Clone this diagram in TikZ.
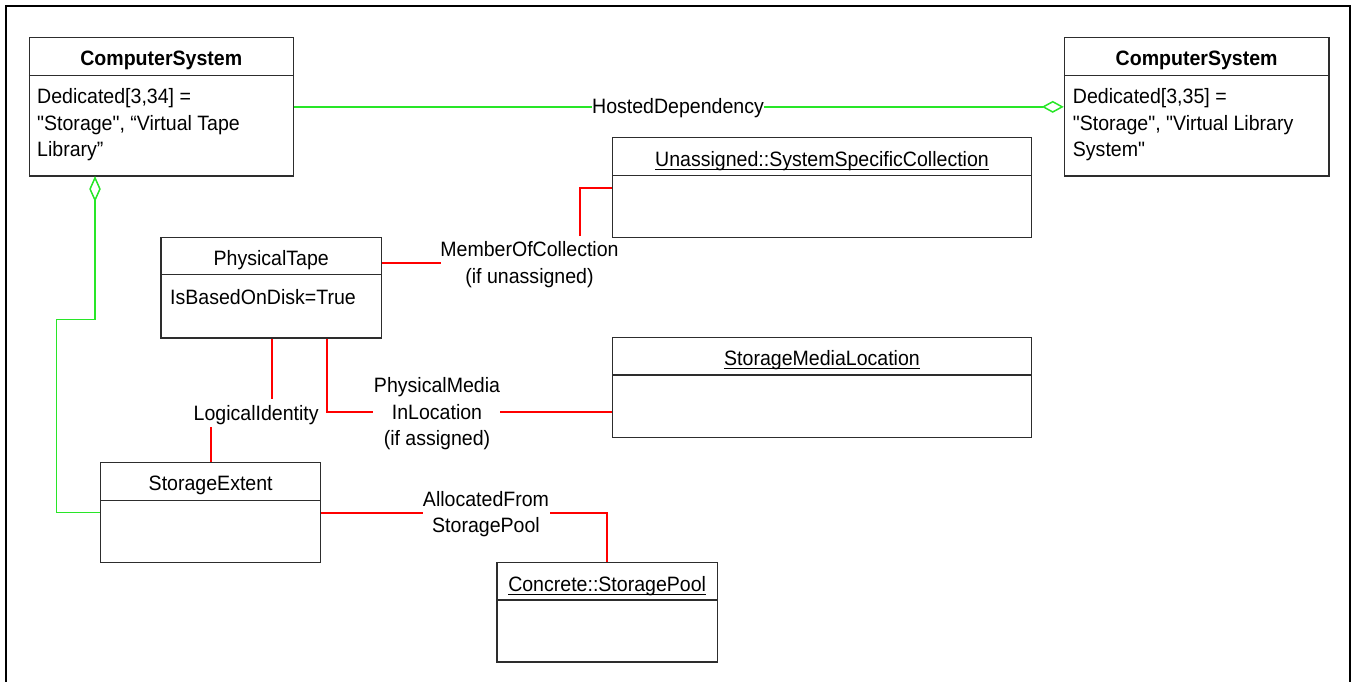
\documentclass[tikz,border=0pt]{standalone}
\usepackage{fontspec}
\setmainfont{Liberation Sans}[Ligatures=TeXOff, FakeStretch=0.94]
\usetikzlibrary{arrows.meta}
\definecolor{umlgreen}{RGB}{40,230,40}
\definecolor{umlred}{RGB}{255,0,0}
\definecolor{boxgray}{RGB}{45,45,45}
\begin{document}
\begin{tikzpicture}[x=1pt,y=-1pt,
  font=\fontsize{20.8}{26.7}\selectfont,
  box/.style={draw=boxgray, line width=1.1pt, inner sep=0pt, fill=white},
  divline/.style={draw=boxgray, line width=1.1pt},
  ttl/.style={inner sep=0pt, anchor=base},
  bodytxt/.style={inner sep=0pt, anchor=base west, align=left},
  lbl/.style={inner sep=0pt, anchor=base, align=center},
  ulne/.style={draw=black, line width=1pt},
  rline/.style={draw=umlred, line width=2pt},
  gline/.style={draw=umlgreen, line width=1.5pt},
  frame/.style={draw=black, line width=2.2pt}]
\useasboundingbox (0,0) rectangle (1352,681);
\draw[frame] (6,6) rectangle (1350,700);

% boxes
\node[box, minimum width=264pt, minimum height=138.3pt] (cs1) at (161.3,106.85) {};
\draw[divline] (cs1.west |- 0,75.3) -- (cs1.east |- 0,75.3);
\node[ttl, font=\fontsize{20.8}{26.7}\selectfont\bfseries] (cs1t) at (161.3,65.7) {ComputerSystem};
\node[bodytxt] (cs1b) at (37,156.7) {Dedicated[3,34] =\\"Storage", “Virtual Tape\\Library”};

\node[box, minimum width=264.7pt, minimum height=138.3pt] (cs2) at (1196.65,106.85) {};
\draw[divline] (cs2.west |- 0,75.3) -- (cs2.east |- 0,75.3);
\node[ttl, font=\fontsize{20.8}{26.7}\selectfont\bfseries] (cs2t) at (1196.65,65.7) {ComputerSystem};
\node[bodytxt] (cs2b) at (1072.7,156.7) {Dedicated[3,35] =\\"Storage", "Virtual Library\\System"};

\node[box, minimum width=418.7pt, minimum height=100pt] (usc) at (822.05,187.7) {};
\draw[divline] (usc.west |- 0,175.3) -- (usc.east |- 0,175.3);
\node[ttl] (usct) at (822.05,166.7) {Unassigned::SystemSpecificCollection};
\draw[ulne] ([yshift=-2.7pt]usct.base west) -- ([yshift=-2.7pt]usct.base east);

\node[box, minimum width=220.5pt, minimum height=100.3pt] (pt) at (271.25,287.85) {};
\draw[divline] (pt.west |- 0,274.3) -- (pt.east |- 0,274.3);
\node[ttl] (ptt) at (271.25,265.7) {PhysicalTape};
\node[bodytxt] (ptb) at (170,304) {IsBasedOnDisk=True};

\node[box, minimum width=418.6pt, minimum height=100pt] (sml) at (822,387.3) {};
\draw[divline] (sml.west |- 0,375) -- (sml.east |- 0,375);
\node[ttl] (smlt) at (822,365.3) {StorageMediaLocation};
\draw[ulne] ([yshift=-2.7pt]smlt.base west) -- ([yshift=-2.7pt]smlt.base east);

\node[box, minimum width=220pt, minimum height=100pt] (se) at (210.7,512.7) {};
\draw[divline] (se.west |- 0,500.3) -- (se.east |- 0,500.3);
\node[ttl] (set) at (210.7,490.7) {StorageExtent};

\node[box, minimum width=220.3pt, minimum height=99.3pt] (sp) at (607.15,612.35) {};
\draw[divline] (sp.west |- 0,600) -- (sp.east |- 0,600);
\node[ttl] (spt) at (607.15,591.7) {Concrete::StoragePool};
\draw[ulne] ([yshift=-2.7pt]spt.base west) -- ([yshift=-2.7pt]spt.base east);

% labels (base anchor = baseline of last line)
\node[lbl] (hd) at (678,113.3) {HostedDependency};
\node[lbl, fill=white, inner ysep=4pt] (moc) at (529.5,283.4) {MemberOfCollection\\(if unassigned)};
\node[lbl] (li) at (256.2,420) {LogicalIdentity};
\node[lbl] (pmil) at (437,445.9) {PhysicalMedia\\InLocation\\(if assigned)};
\node[lbl] (afsp) at (486,532.7) {AllocatedFrom\\StoragePool};

% connector end points at labels
\coordinate (m1) at (440.6,262.5);
\coordinate (m2) at (579.5,236);
\coordinate (l1) at (271.6,399.3);
\coordinate (l2) at (211,427.3);
\coordinate (p1) at (373.1,412.3);
\coordinate (p2) at (500.4,412.3);
\coordinate (a1) at (422.7,512.7);
\coordinate (a2) at (550,512.7);
\coordinate (g0) at (95,176);
\coordinate (g1) at (95,319.3);
\coordinate (g2) at (56.7,319.3);

% green connectors
\draw[gline] (cs1.east) -- (hd.west |- cs1.east);
\draw[gline, -{Diamond[open, length=22pt, width=12pt]}] (hd.east |- cs2.west) -- (cs2.west);
\draw[gline, {Diamond[open, length=26pt, width=11.5pt]}-] (g0) -- (g1) -- (g2) |- (se.west);

% red connectors
\draw[rline] (pt.east |- m1) -- (m1);
\draw[rline] (m2) |- (usc.west |- 0,187.7);
\draw[rline] (pt.south -| l1) -- (l1);
\draw[rline] (l2) -- (se.north -| l2);
\draw[rline] (pt.south -| 326.7,0) |- (p1);
\draw[rline] (p2) -- (sml.west |- p2);
\draw[rline] (se.east |- a1) -- (a1);
\draw[rline] (a2) -| (sp.north);
\end{tikzpicture}
\end{document}
